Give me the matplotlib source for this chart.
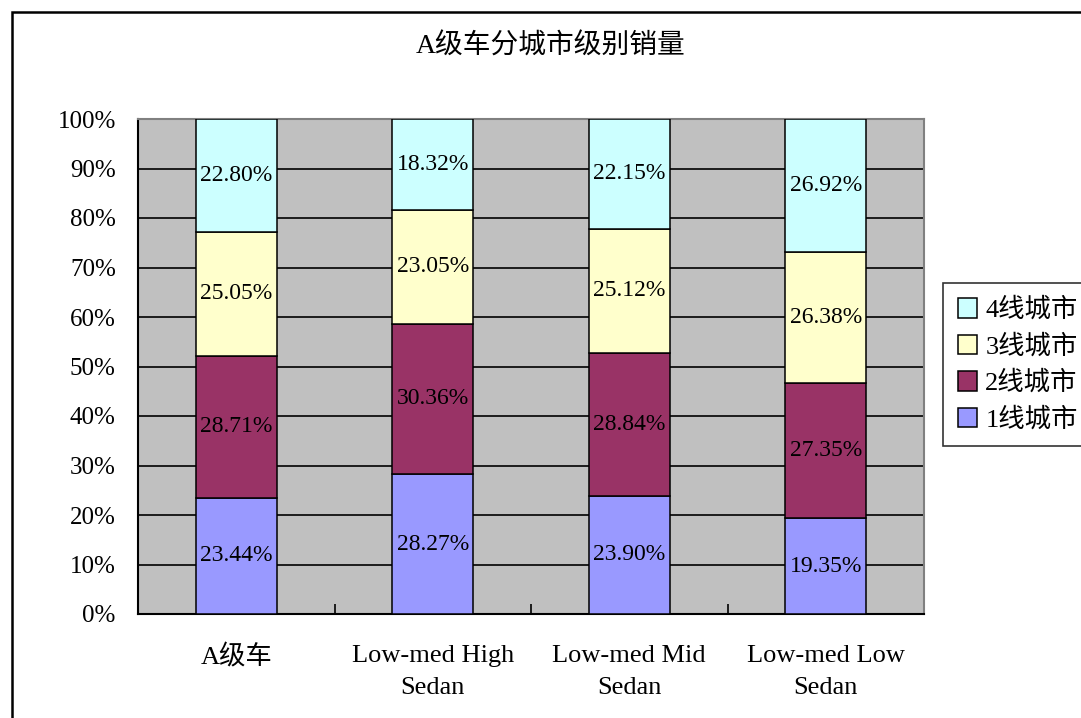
import matplotlib.pyplot as plt
import numpy as np
from matplotlib.patches import Rectangle

plt.rcParams["font.family"] = ["Liberation Serif", "Noto Sans CJK SC"]

categories = ["A级车", "Low-med High\nSedan", "Low-med Mid\nSedan", "Low-med Low\nSedan"]
series_names = ["1线城市", "2线城市", "3线城市", "4线城市"]
tier1 = [23.44, 28.27, 23.90, 19.35]
tier2 = [28.71, 30.36, 28.84, 27.35]
tier3 = [25.05, 23.05, 25.12, 26.38]
tier4 = [22.80, 18.32, 22.15, 26.92]
colors = ["#9999FF", "#993366", "#FFFFCC", "#CCFFFF"]

W, H = 1081, 718
fig = plt.figure(figsize=(W / 100, H / 100), dpi=100)

# outer chart-area frame (runs off the right and bottom edges)
fig.patches.append(Rectangle((12 / W, -0.1), 1.2, 1 - 12 / H + 0.1,
                             transform=fig.transFigure, fill=False,
                             edgecolor="black", linewidth=1.8))

ax = fig.add_axes([138 / W, 1 - 614 / H, (924 - 138) / W, (614 - 119) / H])
ax.set_facecolor("#C0C0C0")

x = np.arange(len(categories))
bottom = np.zeros(len(categories))
bars = []
for name, vals, c in zip(series_names, [tier1, tier2, tier3, tier4], colors):
    vals = np.array(vals)
    b = ax.bar(x, vals, 0.41, bottom=bottom, color=c, edgecolor="black",
               linewidth=1.1, label=name, zorder=3)
    bars.append(b)
    for xi, v, b0 in zip(x, vals, bottom):
        ax.text(xi, b0 + v / 2, f"{v:.2f}%", ha="center", va="center",
                fontsize=17, zorder=4)
    bottom += vals

ax.set_xlim(-0.5, 3.5)
ax.set_ylim(0, 100)
ax.set_yticks(np.arange(0, 101, 10))
ax.set_yticklabels([f"{v}%" for v in range(0, 101, 10)], fontsize=18)
ax.yaxis.grid(True, color="black", linewidth=1.2, zorder=1)
ax.set_axisbelow(True)
ax.tick_params(axis="y", length=0, pad=16)

ax.set_xticks(x)
ax.set_xticklabels(categories, fontsize=19, linespacing=1.6)
ax.tick_params(axis="x", which="major", length=0, pad=22)
ax.set_xticks([0.5, 1.5, 2.5], minor=True)
ax.tick_params(axis="x", which="minor", direction="in", length=7, width=1.2)

for side in ["left", "bottom"]:
    ax.spines[side].set_color("black")
    ax.spines[side].set_linewidth(1.5)
for side in ["top", "right"]:
    ax.spines[side].set_color("#808080")
    ax.spines[side].set_linewidth(1.5)

fig.text(551 / W, 1 - 47 / H, "A级车分城市级别销量", ha="center", va="center",
         fontsize=20)

handles = [b.patches[0] for b in bars][::-1]
leg = fig.legend(handles, series_names[::-1], loc="upper left",
                 bbox_to_anchor=(943 / W, 1 - 283 / H), fontsize=19,
                 frameon=True, fancybox=False, edgecolor="black",
                 handlelength=0.75, handleheight=0.75, handletextpad=0.3,
                 labelspacing=0.45, borderpad=0.55, borderaxespad=0)
leg.get_frame().set_linewidth(1.2)

fig.savefig("out.png", dpi=100)
